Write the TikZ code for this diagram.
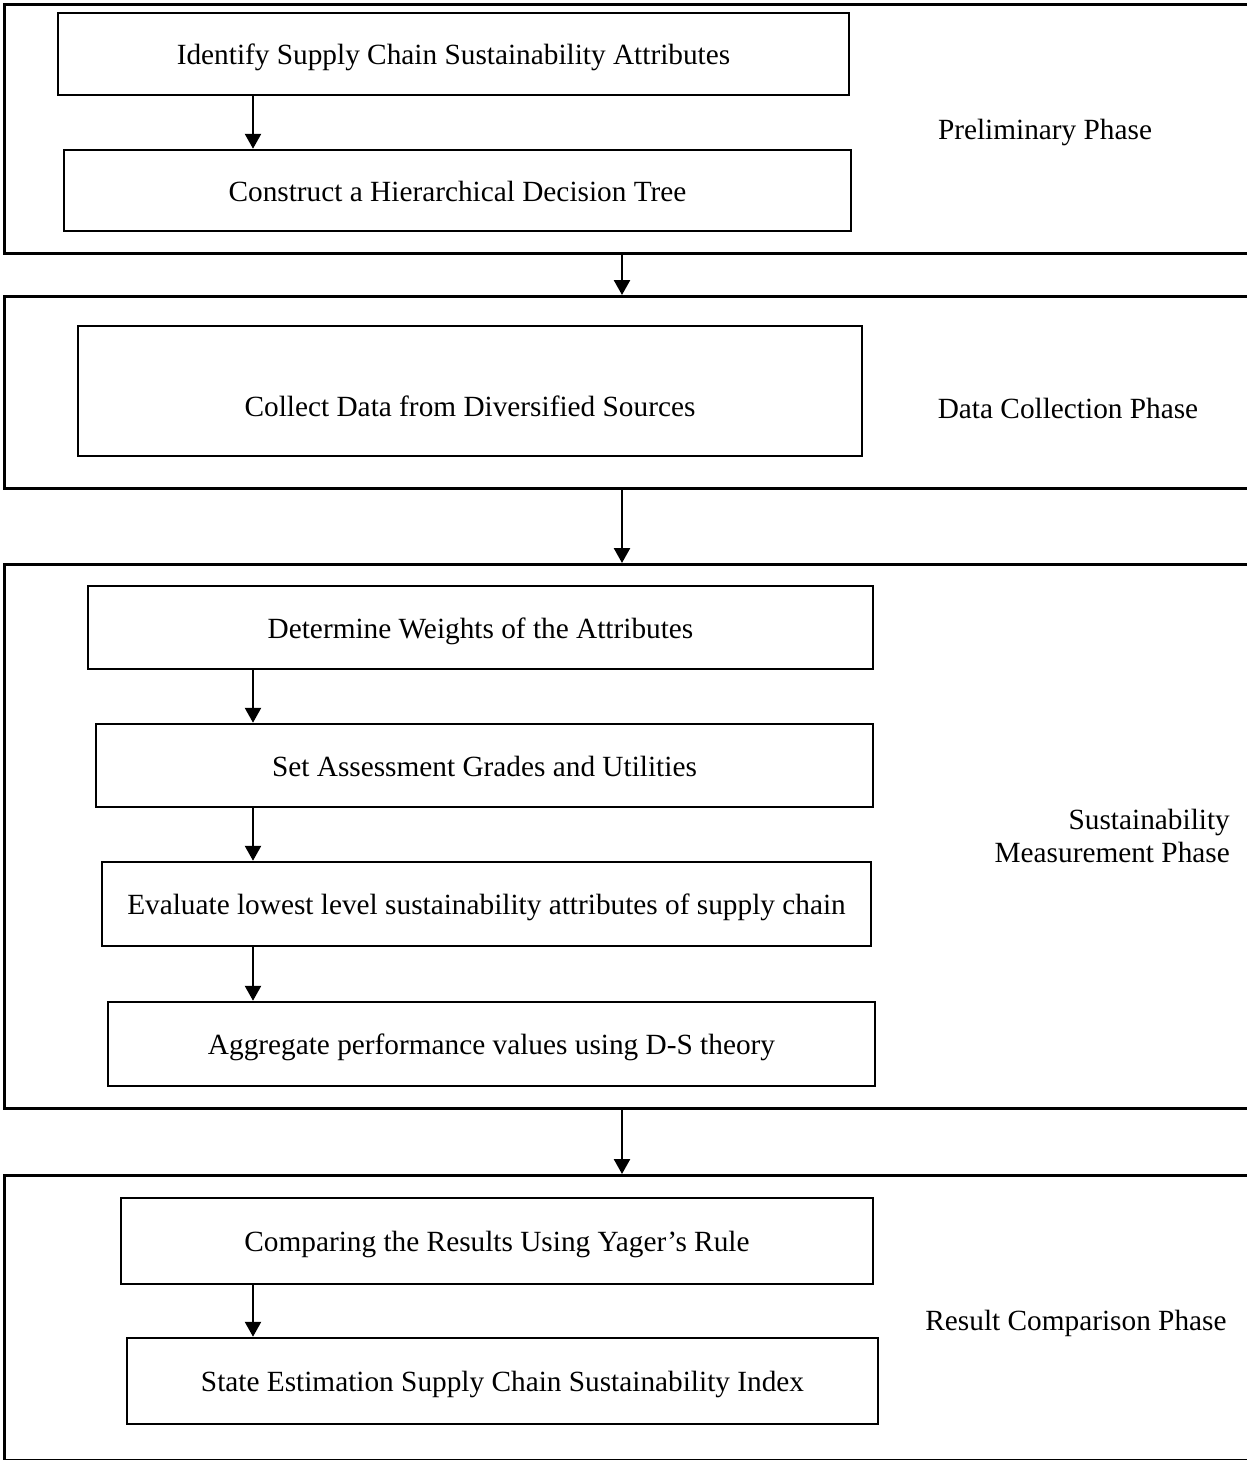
\documentclass[tikz,border=0pt]{standalone}
\usepackage{fontspec}
\setmainfont{Liberation Serif}
\usetikzlibrary{arrows.meta}
\begin{document}
\begin{tikzpicture}[x=1pt,y=-1pt,
  every node/.style={font=\fontsize{29.3}{33}\selectfont},
  stepbox/.style={draw, line width=2.5pt, inner sep=0pt, fill=white, text height=23pt, text depth=2pt},
  phasebox/.style={draw, line width=2.5pt, inner sep=0pt},
  lbl/.style={inner sep=0pt, align=center},
  arr/.style={line width=2.5pt, -{Triangle[width=16pt,length=15pt]}}]
\useasboundingbox (0,0) rectangle (1247,1460);
% phase boxes (right edge runs off the picture)
\node[phasebox, minimum width=1252pt, minimum height=249pt, anchor=north west] (o1) at (3,3) {};
\node[phasebox, minimum width=1252pt, minimum height=192pt, anchor=north west] (o2) at (3,295) {};
\node[phasebox, minimum width=1252pt, minimum height=544pt, anchor=north west] (o3) at (3,563) {};
\node[phasebox, minimum width=1252pt, minimum height=285pt, anchor=north west] (o4) at (3,1174) {};
% step boxes
\node[stepbox, minimum width=791pt, minimum height=82pt] (b1) at (453.5,54) {Identify Supply Chain Sustainability Attributes};
\node[stepbox, minimum width=787pt, minimum height=81pt] (b2) at (457.5,190.5) {Construct a Hierarchical Decision Tree};
\node[stepbox, minimum width=784pt, minimum height=130pt, text height=52pt] (b3) at (470,391) {Collect Data from Diversified Sources};
\node[stepbox, minimum width=785pt, minimum height=83pt] (b4) at (480.5,627.5) {Determine Weights of the Attributes};
\node[stepbox, minimum width=777pt, minimum height=83pt] (b5) at (484.5,765.5) {Set Assessment Grades and Utilities};
\node[stepbox, minimum width=769pt, minimum height=84pt] (b6) at (486.5,904) {Evaluate lowest level sustainability attributes of supply chain};
\node[stepbox, minimum width=767pt, minimum height=84pt] (b7) at (491.5,1044) {Aggregate performance values using D-S theory};
\node[stepbox, minimum width=752pt, minimum height=86pt] (b8) at (497,1241) {Comparing the Results Using Yager’s Rule};
\node[stepbox, minimum width=751pt, minimum height=86pt] (b9) at (502.5,1381) {State Estimation Supply Chain Sustainability Index};
% phase labels
\node[lbl] (l1) at (1045,132) {Preliminary Phase};
\node[lbl] (l2) at (1068,408) {Data Collection Phase};
\node[lbl, align=right, anchor=east] (l3) at (1230,836) {Sustainability\\Measurement Phase};
\node[lbl] (l4) at (1076,1323) {Result Comparison Phase};
% connectors
\coordinate (ax) at (253,0);
\coordinate (cx) at (622,0);
\draw[arr] (ax |- b1.south) -- (ax |- b2.north);
\draw[arr] (ax |- b4.south) -- (ax |- b5.north);
\draw[arr] (ax |- b5.south) -- (ax |- b6.north);
\draw[arr] (ax |- b6.south) -- (ax |- b7.north);
\draw[arr] (ax |- b8.south) -- (ax |- b9.north);
\draw[arr] (cx |- o1.south) -- (cx |- o2.north);
\draw[arr] (cx |- o2.south) -- (cx |- o3.north);
\draw[arr] (cx |- o3.south) -- (cx |- o4.north);
\end{tikzpicture}
\end{document}
